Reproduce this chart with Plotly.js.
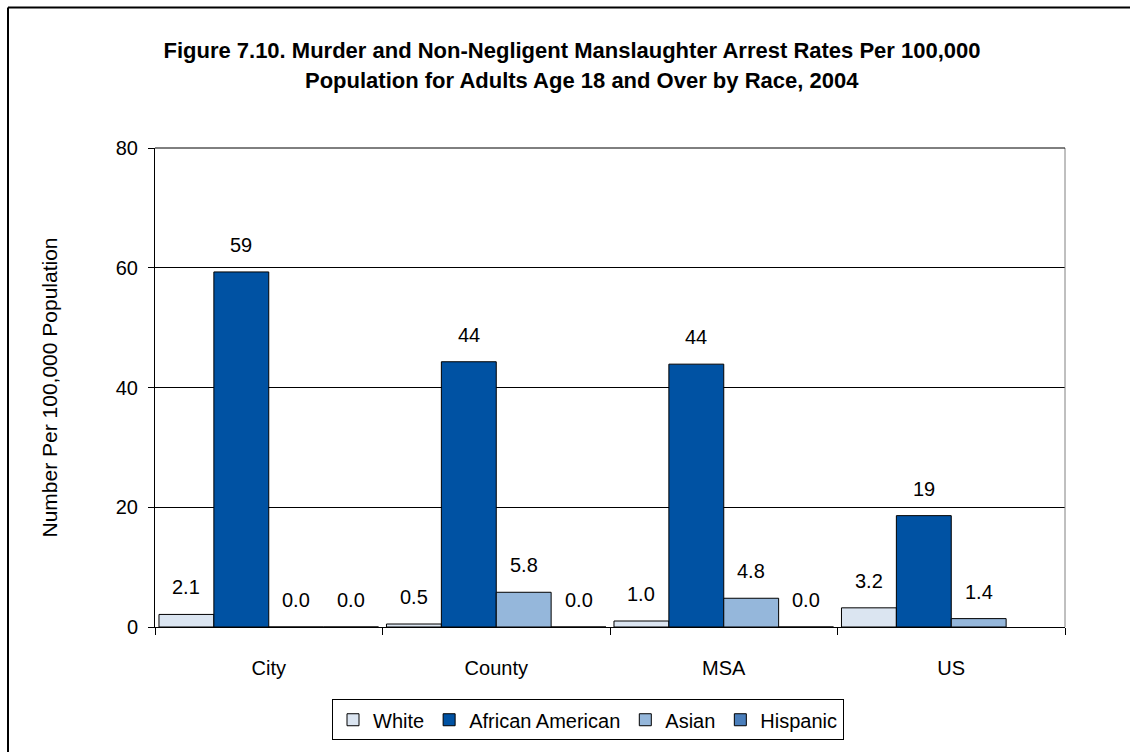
<!DOCTYPE html>
<html>
<head>
<meta charset="utf-8">
<script src="https://cdn.plot.ly/plotly-3.0.1.min.js"></script>
<style>html,body{margin:0;padding:0;background:#fff;overflow:hidden;}#chart{width:1130px;height:752px;}</style>
</head>
<body>
<div id="chart"></div>
<script>
// ---- data ----
const categories = ['City', 'County', 'MSA', 'US'];
const seriesNames = ['White', 'African American', 'Asian', 'Hispanic'];
const white    = [2.1, 0.5, 1.0, 3.2];
const african  = [59.3, 44.3, 43.9, 18.6];
const asian    = [0.0, 5.8, 4.8, 1.4];
const hispanic = [0.0, 0.0, 0.0, null];
const yTicks = [0, 20, 40, 60, 80];
const titleLine1 = 'Figure 7.10. Murder and Non-Negligent Manslaughter Arrest Rates Per 100,000';
const titleLine2 = 'Population for Adults Age 18 and Over by Race, 2004';
const yTitle = 'Number Per 100,000 Population';

// ---- style ----
const colors = ['#dbe5f1', '#0052a3', '#95b7db', '#4a7ebb'];
const FONT = 'Arial, "Liberation Sans", sans-serif';
const W = 1130, H = 752;
const M = {l: 155, r: 65, t: 148, b: 120};
const BARGAP = 0.035;

const allSeries = [white, african, asian, hispanic];
function fmt(v) { return v >= 10 ? String(Math.round(v)) : v.toFixed(1); }

const traces = allSeries.map((vals, i) => ({
  type: 'bar',
  name: seriesNames[i],
  x: categories,
  y: vals,
  marker: {color: colors[i], line: {color: '#000000', width: 1}},
  hoverinfo: 'x+y+name'
}));

// data labels as annotations above each bar
const plotW = W - M.l - M.r;
const plotH = H - M.t - M.b;
const catW = plotW / categories.length;
const barW = catW * (1 - BARGAP) / allSeries.length;
const annotations = [];
allSeries.forEach((vals, i) => {
  vals.forEach((v, j) => {
    if (v === null || v === undefined) return;
    annotations.push({
      x: categories[j], y: v, xref: 'x', yref: 'y',
      text: fmt(v), showarrow: false,
      xshift: (i - (allSeries.length - 1) / 2) * barW,
      yshift: 27, yanchor: 'middle', xanchor: 'center',
      font: {family: FONT, size: 20, color: '#000'}
    });
  });
});
annotations.push({
  xref: 'paper', yref: 'paper',
  x: (582 - M.l) / plotW, y: (H - M.b - 80) / plotH,
  text: titleLine2, showarrow: false, xanchor: 'center', yanchor: 'middle',
  font: {family: FONT, size: 22, color: '#000', weight: 'bold'}
});

// outer frame: only top and left edges are visible in the picture
const fx0 = (8 - M.l) / plotW, fx1 = (1300 - M.l) / plotW;
const fyTop = (H - M.b - 6) / plotH, fyBot = (H - M.b - 800) / plotH;
const shapes = [
  {type: 'line', xref: 'paper', yref: 'paper', x0: 1, x1: 1, y0: 0, y1: 1,
   line: {color: '#808080', width: 1}},
  {type: 'line', xref: 'paper', yref: 'paper', x0: 0, x1: 1, y0: 1, y1: 1,
   line: {color: '#000', width: 1}},
  {type: 'line', xref: 'paper', yref: 'paper', x0: fx0, x1: fx0, y0: fyBot, y1: fyTop,
   line: {color: '#000', width: 2}},
  {type: 'line', xref: 'paper', yref: 'paper', x0: fx0, x1: fx1, y0: fyTop, y1: fyTop,
   line: {color: '#000', width: 2}}
];

const layout = {
  width: W, height: H,
  margin: M,
  paper_bgcolor: '#fff', plot_bgcolor: '#fff',
  font: {family: FONT, size: 20, color: '#000'},
  title: {
    text: titleLine1,
    font: {family: FONT, size: 22, color: '#000', weight: 'bold'},
    xref: 'container', yref: 'container',
    x: 572 / W, xanchor: 'center',
    y: 1 - 50 / H, yanchor: 'middle'
  },
  barmode: 'group',
  bargap: BARGAP,
  bargroupgap: 0,
  xaxis: {
    type: 'category',
    showline: true, linecolor: '#000', linewidth: 1,
    ticks: 'outside', tickson: 'boundaries', ticklen: 7, tickcolor: '#000',
    ticklabelstandoff: 23,
    tickfont: {family: FONT, size: 20, color: '#000'},
    showgrid: false, zeroline: false, fixedrange: true
  },
  yaxis: {
    range: [0, 80],
    tickvals: yTicks,
    ticktext: yTicks.map(String),
    showline: true, linecolor: '#000', linewidth: 1,
    ticks: 'outside', ticklen: 6, tickcolor: '#000',
    ticklabelstandoff: 6,
    showgrid: true, gridcolor: '#000', gridwidth: 1,
    zeroline: true, zerolinecolor: '#000', zerolinewidth: 1,
    tickfont: {family: FONT, size: 20, color: '#000'},
    title: {text: yTitle, font: {family: FONT, size: 21, color: '#000'}, standoff: 52},
    fixedrange: true
  },
  showlegend: true,
  legend: {
    orientation: 'h',
    x: (588 - M.l) / plotW, xanchor: 'center',
    y: (H - M.b - 705) / plotH, yanchor: 'top',
    bordercolor: '#000', borderwidth: 1,
    bgcolor: '#fff',
    font: {family: FONT, size: 20, color: '#000'},
    traceorder: 'normal'
  },
  annotations: annotations,
  shapes: shapes
};

Plotly.newPlot('chart', traces, layout, {displayModeBar: false, staticPlot: true});
</script>
</body>
</html>
